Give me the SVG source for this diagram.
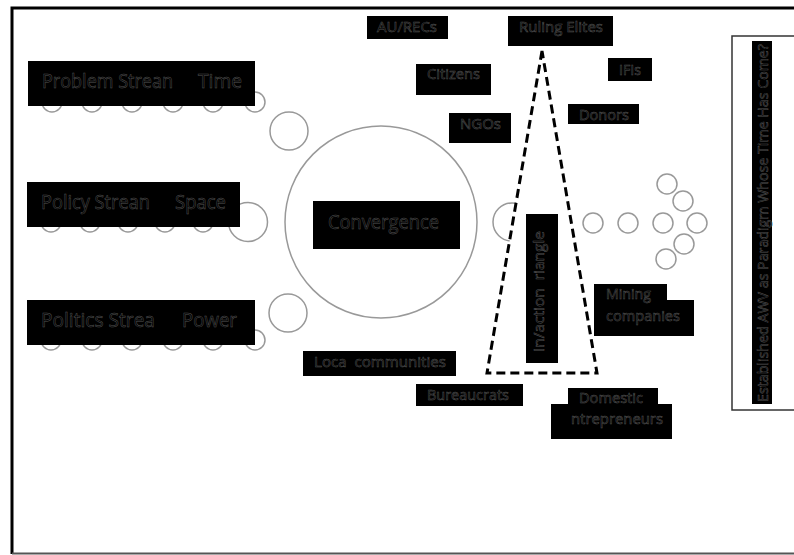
<svg xmlns="http://www.w3.org/2000/svg" width="794" height="555" viewBox="0 0 794 555">
<style>
.bg{fill:#fff}
.c{fill:none;stroke:#999;stroke-width:1.5}
.b{fill:#000}
.t{font-family:"Open Sans","Liberation Sans",sans-serif;fill:#000;stroke:#555;stroke-width:0.5;white-space:pre}
.big{font-size:20px}
.sm{font-size:15px}
</style>
<rect class="bg" x="0" y="0" width="794" height="555"/>
<g id="frame">
<path d="M12,554 V8 H794" fill="none" stroke="#000" stroke-width="3"/>
<line x1="12" y1="553.5" x2="794" y2="553.5" stroke="#555" stroke-width="2"/>
</g>
<g id="connectors">
<g id="problem-circles">
<circle class="c" cx="52" cy="102" r="10"/><circle class="c" cx="92" cy="102" r="10"/><circle class="c" cx="132" cy="102" r="10"/><circle class="c" cx="173" cy="102" r="10"/><circle class="c" cx="213" cy="102" r="10"/><circle class="c" cx="255" cy="102" r="10"/>
<circle class="c" cx="289" cy="131" r="19"/>
</g>
<g id="policy-circles">
<circle class="c" cx="51" cy="222" r="10"/><circle class="c" cx="90" cy="222" r="10"/><circle class="c" cx="128" cy="222" r="10"/><circle class="c" cx="165" cy="222" r="10"/><circle class="c" cx="203" cy="222" r="10"/>
<circle class="c" cx="248" cy="222" r="19.5"/>
</g>
<g id="politics-circles">
<circle class="c" cx="51" cy="340" r="10"/><circle class="c" cx="92" cy="340" r="10"/><circle class="c" cx="132" cy="340" r="10"/><circle class="c" cx="173" cy="340" r="10"/><circle class="c" cx="213" cy="340" r="10"/><circle class="c" cx="255" cy="340" r="10"/>
<circle class="c" cx="288" cy="313" r="19"/>
</g>
<circle class="c" cx="512" cy="222" r="19"/>
<g id="out-circles">
<circle class="c" cx="593" cy="223" r="10"/><circle class="c" cx="628" cy="223" r="10"/><circle class="c" cx="663" cy="223" r="10"/><circle class="c" cx="697" cy="223" r="10"/>
<circle class="c" cx="667" cy="184" r="10"/><circle class="c" cx="683" cy="201" r="10"/><circle class="c" cx="684" cy="244" r="10"/><circle class="c" cx="666" cy="259" r="10"/>
</g>
</g>
<g id="convergence">
<circle class="c" cx="381" cy="222" r="96"/>
<rect class="b" x="313" y="201" width="147" height="48"/>
<text class="t big" x="328" y="229" textLength="111" lengthAdjust="spacingAndGlyphs">Convergence</text>
</g>
<g id="problem-stream">
<rect class="b" x="28" y="61" width="227" height="45"/>
<text class="t big" x="42" y="88" textLength="131" lengthAdjust="spacingAndGlyphs">Problem Strean</text>
<text class="t big" x="198" y="88" textLength="44" lengthAdjust="spacingAndGlyphs">Time</text>
</g>
<g id="policy-stream">
<rect class="b" x="27" y="182" width="213" height="45"/>
<text class="t big" x="41" y="209" textLength="109" lengthAdjust="spacingAndGlyphs">Policy Strean</text>
<text class="t big" x="175" y="209" textLength="51" lengthAdjust="spacingAndGlyphs">Space</text>
</g>
<g id="politics-stream">
<rect class="b" x="27" y="300" width="228" height="45"/>
<text class="t big" x="41" y="327" textLength="114" lengthAdjust="spacingAndGlyphs">Politics Strea</text>
<text class="t big" x="182" y="327" textLength="55" lengthAdjust="spacingAndGlyphs">Power</text>
</g>
<g id="triangle">
<polygon points="542,51 487,373 597,373" fill="#fff" stroke="#000" stroke-width="3" stroke-dasharray="9,5"/>
</g>
<g id="inaction-triangle">
<rect class="b" x="526" y="214" width="32" height="149"/>
<text class="t sm" transform="translate(544,352) rotate(-90)" textLength="121" lengthAdjust="spacingAndGlyphs">In/action  riangle</text>
</g>
<g id="au-recs">
<rect class="b" x="367" y="16" width="81" height="23"/>
<text class="t sm" x="377" y="32" textLength="60" lengthAdjust="spacingAndGlyphs">AU/RECs</text>
</g>
<g id="ruling-elites">
<rect class="b" x="508" y="16" width="105" height="30"/>
<text class="t sm" x="519" y="32" textLength="84" lengthAdjust="spacingAndGlyphs">Ruling Elites</text>
</g>
<g id="citizens">
<rect class="b" x="416" y="64" width="75" height="31"/>
<text class="t sm" x="427" y="79" textLength="53" lengthAdjust="spacingAndGlyphs">Citizens</text>
</g>
<g id="ngos">
<rect class="b" x="449" y="113" width="62" height="30"/>
<text class="t sm" x="460" y="129" textLength="41" lengthAdjust="spacingAndGlyphs">NGOs</text>
</g>
<g id="ifis">
<rect class="b" x="608" y="58" width="44" height="23"/>
<text class="t sm" x="619" y="75" textLength="22" lengthAdjust="spacingAndGlyphs">IFIs</text>
</g>
<g id="donors">
<rect class="b" x="568" y="104" width="71" height="20"/>
<text class="t sm" x="579" y="120" textLength="50" lengthAdjust="spacingAndGlyphs">Donors</text>
</g>
<g id="mining-companies">
<rect class="b" x="594" y="284" width="73" height="17"/>
<rect class="b" x="594" y="300" width="100" height="36"/>
<text class="t sm" x="606" y="299" textLength="45" lengthAdjust="spacingAndGlyphs">Mining</text>
<text class="t sm" x="606" y="321" textLength="74" lengthAdjust="spacingAndGlyphs">companies</text>
</g>
<g id="local-communities">
<rect class="b" x="303" y="351" width="153" height="25"/>
<text class="t sm" x="314" y="367" textLength="132" lengthAdjust="spacingAndGlyphs">Loca  communities</text>
</g>
<g id="bureaucrats">
<rect class="b" x="416" y="384" width="107" height="22"/>
<text class="t sm" x="427" y="400" textLength="82" lengthAdjust="spacingAndGlyphs">Bureaucrats</text>
</g>
<g id="domestic-entrepreneurs">
<rect class="b" x="568" y="388" width="90" height="17"/>
<rect class="b" x="551" y="404" width="121" height="35"/>
<text class="t sm" x="579" y="403" textLength="64" lengthAdjust="spacingAndGlyphs">Domestic</text>
<text class="t sm" x="571" y="424" textLength="92" lengthAdjust="spacingAndGlyphs">ntrepreneurs</text>
</g>
<g id="paradigm">
<rect x="732" y="36" width="80" height="374" fill="#fff" stroke="#333" stroke-width="1.5"/>
<rect class="b" x="752" y="41" width="20" height="363"/>
<text class="t sm" transform="translate(768,402) rotate(-90)" textLength="358" lengthAdjust="spacingAndGlyphs">Established AWV as Paradigm Whose Time Has Come?</text>
</g>
</svg>
